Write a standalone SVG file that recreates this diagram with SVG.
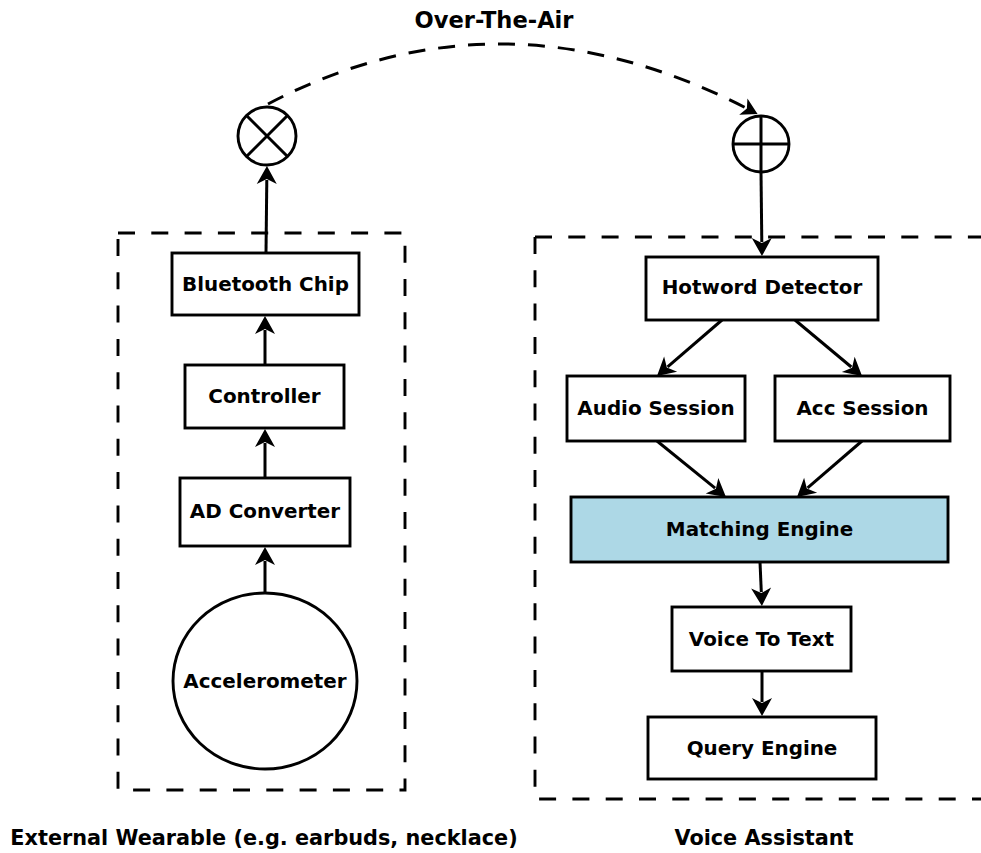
<svg xmlns="http://www.w3.org/2000/svg" width="981" height="853" viewBox="0 0 981 853">
<style>
text{font-family:"DejaVu Sans","Liberation Sans",sans-serif;font-weight:bold;fill:#000;text-anchor:middle}
.node{font-size:19.9px}
.lbl{font-size:20.8px}
.title{font-size:22.6px}
.box{fill:#fff;stroke:#000;stroke-width:2.9}
.hl{fill:#ADD8E6}
.cluster{fill:none;stroke:#000;stroke-width:2.9;stroke-dasharray:17 16.3}
.edge{fill:none;stroke:#000;stroke-width:3}
.dash{stroke-dasharray:17 13}
</style>
<defs>
<marker id="arr" markerUnits="userSpaceOnUse" orient="auto" overflow="visible" refX="4" refY="0" markerWidth="20" markerHeight="20">
<path d="M18,0 L0,-10 L5,0 L0,10 Z" fill="#000"/>
</marker>
<marker id="arrS" markerUnits="userSpaceOnUse" orient="auto" overflow="visible" refX="3" refY="0" markerWidth="20" markerHeight="20">
<path d="M16,0 L0,-9 L4,0 L0,9 Z" fill="#000"/>
</marker>
</defs>
<rect width="981" height="853" fill="#fff"/>

<g id="clusters">
<path class="cluster" d="M118,233 L405,233 L405,790 L118,790 Z"/>
<path class="cluster" d="M535,237 L990,237 M535,237 L535,799 L990,799"/>
</g>

<g id="connectors">
<path class="edge" d="M265,595 L265,561" marker-end="url(#arr)"/>
<path class="edge" d="M265,478 L265,443" marker-end="url(#arr)"/>
<path class="edge" d="M265,365 L265,330" marker-end="url(#arr)"/>
<path class="edge" d="M266,253 L266.8,180" marker-end="url(#arr)"/>
<path class="edge" d="M761,172 L761.8,242" marker-end="url(#arr)"/>
<path class="edge" d="M722,320 L667.6,366.8" marker-end="url(#arr)"/>
<path class="edge" d="M795,320 L851.3,367" marker-end="url(#arr)"/>
<path class="edge" d="M657,441 L715.1,488.2" marker-end="url(#arr)"/>
<path class="edge" d="M862,441 L807.6,487.9" marker-end="url(#arr)"/>
<path class="edge" d="M760,562 L761.3,592" marker-end="url(#arr)"/>
<path class="edge" d="M762,671 L762,702" marker-end="url(#arr)"/>
<path class="edge dash" d="M268,104 Q500,-18 746,108" marker-end="url(#arrS)"/>
</g>

<g id="mixer">
<circle class="box" cx="267" cy="136" r="29"/>
<path class="edge" d="M246.5,115.5 L287.5,156.5 M287.5,115.5 L246.5,156.5"/>
</g>
<g id="receiver">
<circle class="box" cx="761" cy="144" r="28"/>
<path class="edge" d="M733,144 L789,144 M761,116 L761,172"/>
</g>

<g id="bluetooth">
<rect class="box" x="172" y="253" width="187" height="62"/>
<text class="node" x="265.5" y="291">Bluetooth Chip</text>
</g>
<g id="controller">
<rect class="box" x="185" y="365" width="159" height="63"/>
<text class="node" x="264.5" y="403">Controller</text>
</g>
<g id="adconverter">
<rect class="box" x="180" y="478" width="170" height="68"/>
<text class="node" x="265" y="518">AD Converter</text>
</g>
<g id="accelerometer">
<ellipse class="box" cx="265" cy="681" rx="92" ry="88"/>
<text class="node" x="265" y="688">Accelerometer</text>
</g>

<g id="hotword">
<rect class="box" x="646" y="257" width="232" height="63"/>
<text class="node" x="762" y="294">Hotword Detector</text>
</g>
<g id="audiosession">
<rect class="box" x="567" y="376" width="178" height="65"/>
<text class="node" x="656" y="415">Audio Session</text>
</g>
<g id="accsession">
<rect class="box" x="775" y="376" width="175" height="65"/>
<text class="node" x="862.5" y="415">Acc Session</text>
</g>
<g id="matching">
<rect class="box hl" x="571" y="497" width="377" height="65"/>
<text class="node" x="759.5" y="536">Matching Engine</text>
</g>
<g id="voicetotext">
<rect class="box" x="672" y="607" width="179" height="64"/>
<text class="node" x="761.5" y="646">Voice To Text</text>
</g>
<g id="queryengine">
<rect class="box" x="648" y="717" width="228" height="62"/>
<text class="node" x="762" y="755">Query Engine</text>
</g>

<g id="labels">
<text class="title" x="494" y="28">Over-The-Air</text>
<text class="lbl" x="264" y="845">External Wearable (e.g. earbuds, necklace)</text>
<text class="lbl" x="764" y="845">Voice Assistant</text>
</g>
</svg>
